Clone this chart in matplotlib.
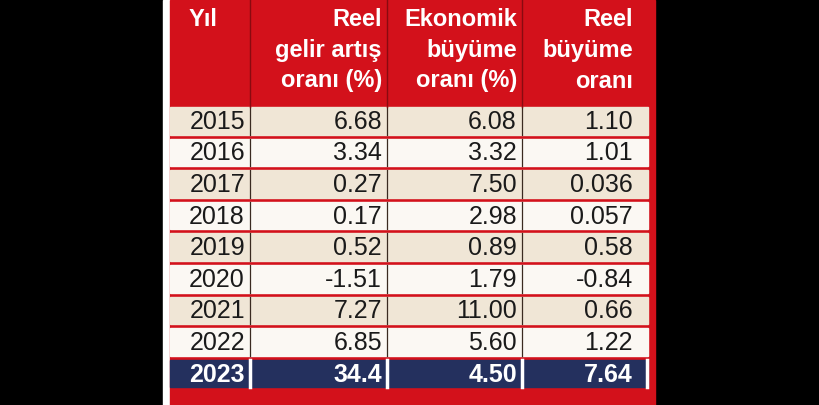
import matplotlib.pyplot as plt
from matplotlib.patches import Rectangle

plt.rcParams['font.family'] = 'Liberation Sans'

headers = [['Yıl'], ['Reel', 'gelir artış', 'oranı (%)'],
           ['Ekonomik', 'büyüme', 'oranı (%)'], ['Reel', 'büyüme', 'oranı']]
years = ['2015', '2016', '2017', '2018', '2019', '2020', '2021', '2022', '2023']
gelir = ['6.68', '3.34', '0.27', '0.17', '0.52', '-1.51', '7.27', '6.85', '34.4']
ekonomik = ['6.08', '3.32', '7.50', '2.98', '0.89', '1.79', '11.00', '5.60', '4.50']
reel = ['1.10', '1.01', '0.036', '0.057', '0.58', '-0.84', '0.66', '1.22', '7.64']

RED = '#d3111b'
NAVY = '#24305e'
row_cols = ['#f0e6d6', '#fbf8f3']

fig = plt.figure(figsize=(8.2, 4.05), dpi=100)
fig.patch.set_facecolor('black')
ax = fig.add_axes([0, 0, 1, 1])
ax.set_xlim(0, 820)
ax.set_ylim(405, 0)
ax.axis('off')

# table frame
ax.add_patch(Rectangle((163, 0), 8, 405, color='white'))
ax.add_patch(Rectangle((170, 0), 485, 405, color=RED))

edges = [170, 250, 387, 522, 648]
top = 107
pitch = 31.6
rh = 27.5

for i, yr in enumerate(years):
    y = top + i * pitch
    last = i == len(years) - 1
    fc = NAVY if last else row_cols[i % 2]
    ax.add_patch(Rectangle((edges[0], y), edges[-1] - edges[0], rh, color=fc))
    tc = 'white' if last else '#1a1a1a'
    lc = 'white' if last else '#3a2a20'
    lw = 2.5 if last else 0.9
    for xe in edges[1:-1]:
        ax.plot([xe, xe], [y, y + rh], color=lc, lw=lw)
    if last:
        ax.plot([edges[-1] - 1, edges[-1] - 1], [y, y + rh], color='white', lw=2.5)
    cy = y + rh / 2 + 1
    fw = 'bold' if last else 'normal'
    ax.text(edges[1] - 5, cy, yr, color=tc, fontsize=18, ha='right', va='center', fontweight=fw)
    for j, vals in enumerate([gelir, ekonomik, reel]):
        ax.text(edges[j + 2] - 5 if j < 2 else 633, cy, vals[i], color=tc, fontsize=18,
                ha='right', va='center', fontweight=fw)

# header
for xe in edges[1:-1]:
    ax.plot([xe, xe], [0, top], color='#8a0a10', lw=1)
line_y = [20, 51, 81]
ax.text(189, line_y[0], headers[0][0], color='white', fontsize=17, fontweight='bold',
        ha='left', va='center')
hx = [edges[2] - 5, edges[3] - 5, 633]
for j, h in enumerate(headers[1:]):
    for k, line in enumerate(h):
        ax.text(hx[j], line_y[k], line, color='white', fontsize=17, fontweight='bold',
                ha='right', va='center')

fig.savefig('out.png', dpi=100, facecolor=fig.get_facecolor())
